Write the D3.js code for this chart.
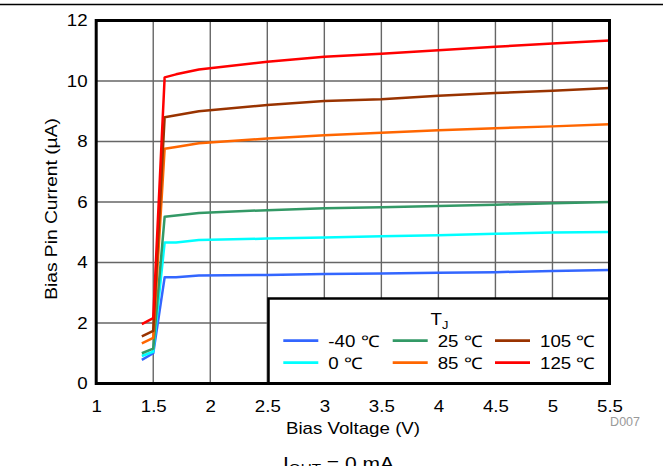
<!DOCTYPE html>
<html>
<head>
<meta charset="utf-8">
<script src="https://cdn.jsdelivr.net/npm/d3@7/dist/d3.min.js"></script>
<style>
  html, body { margin: 0; padding: 0; background: #fff; }
  svg { display: block; font-family: "Liberation Sans", Arial, sans-serif; }
</style>
</head>
<body>
<div id="chart"></div>
<script>
// ---- data ----
const voltage = [1.4, 1.5, 1.6, 1.7, 1.9, 2.5, 3, 3.5, 4, 4.5, 5, 5.5];
const seriesNames = ["-40 ℃", "0 ℃", "25 ℃", "85 ℃", "105 ℃", "125 ℃"];
const seriesColors = ["#3366FF", "#00FFFF", "#339966", "#FF6600", "#993300", "#FF0000"];
const iM40  = [0.78, 1.00, 3.51, 3.51, 3.57, 3.59, 3.62, 3.64, 3.66, 3.68, 3.72, 3.75];
const i0    = [0.91, 1.05, 4.66, 4.66, 4.74, 4.79, 4.83, 4.87, 4.90, 4.95, 4.99, 5.01];
const i25   = [1.00, 1.15, 5.51, 5.55, 5.64, 5.73, 5.79, 5.83, 5.87, 5.91, 5.96, 6.00];
const i85   = [1.33, 1.51, 7.76, 7.82, 7.94, 8.10, 8.21, 8.29, 8.37, 8.44, 8.50, 8.57];
const i105  = [1.56, 1.74, 8.80, 8.87, 9.00, 9.21, 9.34, 9.40, 9.51, 9.60, 9.68, 9.77];
const i125  = [1.96, 2.16, 10.12, 10.22, 10.38, 10.64, 10.80, 10.90, 11.02, 11.13, 11.24, 11.34];
const seriesValues = [iM40, i0, i25, i85, i105, i125];
const xTicks = [1, 1.5, 2, 2.5, 3, 3.5, 4, 4.5, 5, 5.5];
const yTicks = [0, 2, 4, 6, 8, 10, 12];

// ---- layout ----
const W = 663, H = 466;
const mLeft = 96.2, mRight = 609.5, mTop = 20.5, mBottom = 383.5;
const K = 1.17; // horizontal glyph stretch seen in the reference

const svg = d3.select("#chart").append("svg").attr("width", W).attr("height", H);

const x = d3.scaleLinear().domain([1, 5.5]).range([mLeft, mRight]);
const y = d3.scaleLinear().domain([0, 12]).range([mBottom, mTop]);

function stretch(sel, k) {
  sel.each(function () {
    const t = d3.select(this);
    const tx = +t.attr("x") || 0, ty = +t.attr("y") || 0;
    t.attr("transform", `translate(${tx},${ty}) scale(${k},1) translate(${-tx},${-ty})`);
  });
}

// top rule
svg.append("line").attr("x1", 0).attr("x2", W).attr("y1", 4.5).attr("y2", 4.5)
  .attr("stroke", "#000").attr("stroke-width", 1.5);

// grid
const grid = svg.append("g");
grid.selectAll("line.v").data(xTicks.filter(d => d > 1 && d < 5.5)).join("line")
  .attr("class", "v")
  .attr("x1", d => x(d)).attr("x2", d => x(d)).attr("y1", mTop).attr("y2", mBottom)
  .attr("stroke", "#666").attr("stroke-width", 1.4);
grid.selectAll("line.h").data(yTicks.filter(d => d > 0 && d < 12)).join("line")
  .attr("class", "h")
  .attr("y1", d => y(d)).attr("y2", d => y(d)).attr("x1", mLeft).attr("x2", mRight)
  .attr("stroke", "#666").attr("stroke-width", 1.4);

// series lines
const line = d3.line().x((d, i) => x(voltage[i])).y(d => y(d));
svg.append("g").selectAll("path").data(seriesValues).join("path")
  .attr("d", d => line(d))
  .attr("fill", "none")
  .attr("stroke", (d, i) => seriesColors[i])
  .attr("stroke-width", 2.5)
  .attr("stroke-linejoin", "round");

// axes
const xAxis = svg.append("g").attr("transform", `translate(0,${mBottom})`)
  .call(d3.axisBottom(x).tickValues(xTicks).tickSize(0).tickFormat(d3.format("")));
xAxis.select(".domain").remove();
xAxis.selectAll("text").attr("y", 28.5).attr("dy", 0)
  .attr("font-size", 16).attr("fill", "#000").attr("font-family", "Liberation Sans, Arial, sans-serif");
stretch(xAxis.selectAll("text"), K);

const yAxis = svg.append("g").attr("transform", `translate(${mLeft},0)`)
  .call(d3.axisLeft(y).tickValues(yTicks).tickSize(0));
yAxis.select(".domain").remove();
yAxis.selectAll("text").attr("x", -8.5).attr("dy", "0.33em")
  .attr("font-size", 16).attr("fill", "#000").attr("font-family", "Liberation Sans, Arial, sans-serif");
stretch(yAxis.selectAll("text"), K);

// legend box
const lg = svg.append("g");
lg.append("rect").attr("x", 268.5).attr("y", 298.5).attr("width", mRight - 268.5).attr("height", mBottom - 298.5)
  .attr("fill", "#fff").attr("stroke", "#000").attr("stroke-width", 2.5);
const tt = lg.append("text").attr("x", 430.5).attr("y", 325).attr("font-size", 16).attr("fill", "#000");
tt.append("tspan").text("T");
tt.append("tspan").attr("font-size", 11).attr("dy", 4.5).text("J");
stretch(tt, K);

const legCols = [283.3, 392.7, 495];
const legRows = [340.7, 362.7];
const legOrder = [0, 3, 1, 4, 2, 5]; // position of each series: top row -40,25,105 ; bottom row 0,85,125
seriesNames.forEach((name, i) => {
  const pos = legOrder[i];
  const col = pos % 3, row = Math.floor(pos / 3);
  const lx = legCols[col], ly = legRows[row];
  lg.append("line").attr("x1", lx).attr("x2", lx + 35).attr("y1", ly).attr("y2", ly)
    .attr("stroke", seriesColors[i]).attr("stroke-width", 2.8);
  const t = lg.append("text").attr("x", lx + 45).attr("y", ly + 6.5)
    .attr("font-size", 16).attr("fill", "#000").text(name);
  stretch(t, K);
});

// frame
svg.append("rect").attr("x", mLeft).attr("y", mTop).attr("width", mRight - mLeft).attr("height", mBottom - mTop)
  .attr("fill", "none").attr("stroke", "#000").attr("stroke-width", 3);

// axis titles
const xt = svg.append("text").attr("x", 353).attr("y", 434.5).attr("text-anchor", "middle")
  .attr("font-size", 16).attr("fill", "#000").text("Bias Voltage (V)");
stretch(xt, K);

const ytG = svg.append("g").attr("transform", "translate(56.7,209) rotate(-90)");
const yt = ytG.append("text").attr("x", 0).attr("y", 0).attr("text-anchor", "middle")
  .attr("font-size", 16).attr("fill", "#000").text("Bias Pin Current (µA)");
stretch(yt, 1.2);

// figure id
svg.append("text").attr("x", 640).attr("y", 425.7).attr("text-anchor", "end")
  .attr("font-size", 12.5).attr("fill", "#999").text("D007");

// caption (partly cut off at the bottom)
const cap = svg.append("text").attr("x", 283).attr("y", 470).attr("font-size", 18).attr("fill", "#000");
cap.append("tspan").text("I");
cap.append("tspan").attr("font-size", 13).attr("dy", 3).text("OUT");
cap.append("tspan").attr("dy", -3).text(" = 0 mA");
stretch(cap, K);
</script>
</body>
</html>
